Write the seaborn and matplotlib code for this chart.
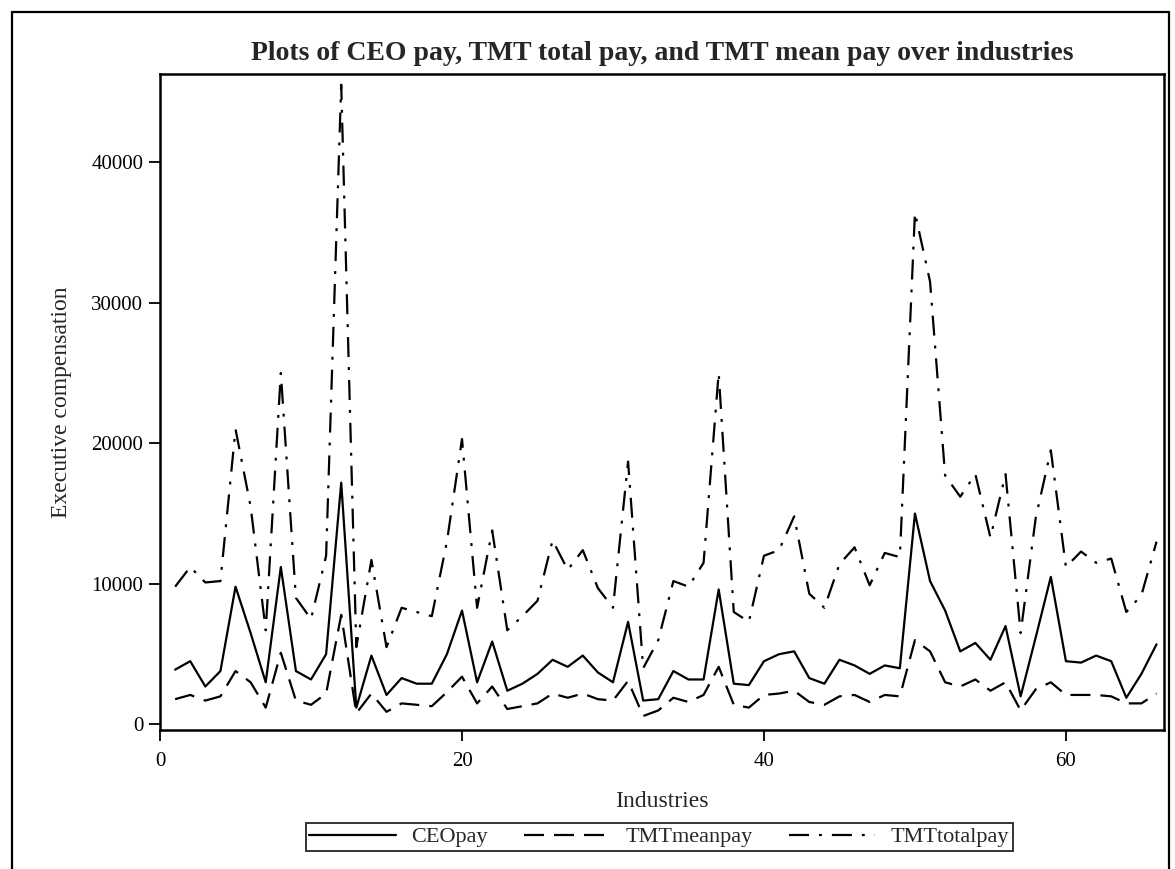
import numpy as np
import pandas as pd
import matplotlib
matplotlib.use("Agg")
import matplotlib.pyplot as plt
import seaborn as sns
from matplotlib.lines import Line2D

industries = list(range(1, 67))
ceo_pay = [3900, 4500, 2700, 3800, 9800, 6500, 3000, 11200, 3800, 3200,
           5000, 17200, 1200, 4900, 2100, 3300, 2900, 2900, 5000, 8100,
           3000, 5900, 2400, 2900, 3600, 4600, 4100, 4900, 3700, 3000,
           7300, 1700, 1800, 3800, 3200, 3200, 9600, 2900, 2800, 4500,
           5000, 5200, 3300, 2900, 4600, 4200, 3600, 4200, 4000, 15000,
           10200, 8100, 5200, 5800, 4600, 7000, 2000, 6200, 10500, 4500,
           4400, 4900, 4500, 1900, 3600, 5700]
tmt_mean_pay = [1800, 2100, 1700, 2000, 3800, 3000, 1200, 5100, 1700, 1400,
                2200, 7800, 800, 2200, 900, 1500, 1400, 1300, 2300, 3400,
                1500, 2700, 1100, 1300, 1500, 2200, 1900, 2200, 1800, 1700,
                3100, 600, 1000, 1900, 1600, 2100, 4100, 1400, 1200, 2100,
                2200, 2400, 1600, 1400, 2000, 2100, 1600, 2100, 2000, 6000,
                5200, 3000, 2700, 3200, 2400, 3000, 1000, 2500, 3000, 2100,
                2100, 2100, 2000, 1500, 1500, 2200]
tmt_total_pay = [9800, 11200, 10100, 10200, 21000, 15500, 6700, 25000, 9000, 7500,
                 12000, 45500, 5500, 11700, 5500, 8300, 8000, 7700, 13000, 20300,
                 8300, 13800, 6700, 7700, 8800, 13100, 11000, 12400, 9700, 8300,
                 18700, 4000, 6000, 10200, 9800, 11500, 25000, 8000, 7300, 12000,
                 12400, 14800, 9300, 8300, 11400, 12600, 9900, 12200, 11900, 36400,
                 31500, 17700, 16200, 17800, 13300, 17800, 6500, 14700, 19500, 11200,
                 12300, 11500, 11800, 8000, 9200, 13000]
series_names = ["CEOpay", "TMTmeanpay", "TMTtotalpay"]
x_ticks = [0, 20, 40, 60]
y_ticks = [0, 10000, 20000, 30000, 40000]

df = pd.DataFrame({
    "Industries": industries * 3,
    "value": ceo_pay + tmt_mean_pay + tmt_total_pay,
    "series": [series_names[0]] * 66 + [series_names[1]] * 66 + [series_names[2]] * 66,
})

sns.set_theme(style="ticks")
plt.rcParams["font.family"] = ["Liberation Serif", "DejaVu Serif"]

fig = plt.figure(figsize=(11.75, 8.69), dpi=100)
ax = fig.add_axes([0.1362, 0.1600, 0.8545, 0.7548])

dash_map = {"CEOpay": "", "TMTmeanpay": (9, 4.5), "TMTtotalpay": (9, 4.5, 1.3, 4.5)}
sns.lineplot(data=df, x="Industries", y="value", style="series",
             style_order=series_names, dashes=dash_map, color="black",
             linewidth=1.6, ax=ax, legend=False, estimator=None)

ax.set_xlim(0, 66.5)
ax.set_ylim(-390, 46260)
ax.set_xticks(x_ticks)
ax.set_yticks(y_ticks)
ax.tick_params(axis="both", direction="out", length=8, width=1.3,
               labelsize=15, colors="black")
ax.tick_params(axis="y", pad=4)
ax.tick_params(axis="x", pad=8)
for s in ax.spines.values():
    s.set_visible(True)
    s.set_linewidth(1.8)
    s.set_color("black")

ax.set_xlabel("Industries", fontsize=17, labelpad=14)
ax.set_ylabel("Executive compensation", fontsize=17, labelpad=14)
ax.set_title("Plots of CEO pay, TMT total pay, and TMT mean pay over industries",
             fontsize=20, fontweight="bold", pad=10)

handles = [
    Line2D([], [], color="black", lw=1.6, linestyle="-"),
    Line2D([], [], color="black", lw=1.6, linestyle=(0, (9, 4.5))),
    Line2D([], [], color="black", lw=1.6, linestyle=(0, (9, 4.5, 1.3, 4.5))),
]
leg = fig.legend(handles, series_names, loc="center", bbox_to_anchor=(0.561, 0.0368),
                 ncol=3, frameon=True, fancybox=False, fontsize=16,
                 handlelength=3.9, columnspacing=1.6, handletextpad=0.7,
                 borderpad=0.15, borderaxespad=0.2, edgecolor="black")
leg.get_frame().set_linewidth(1.4)

# outer frame
fig.add_artist(Line2D([0.0098, 0.0098], [0.0, 0.986], color="black", lw=1.6,
                      transform=fig.transFigure))
fig.add_artist(Line2D([0.0098, 0.995], [0.986, 0.986], color="black", lw=1.6,
                      transform=fig.transFigure))
fig.add_artist(Line2D([0.995, 0.995], [0.0, 0.986], color="black", lw=1.6,
                      transform=fig.transFigure))

fig.savefig("out.png", dpi=100)
